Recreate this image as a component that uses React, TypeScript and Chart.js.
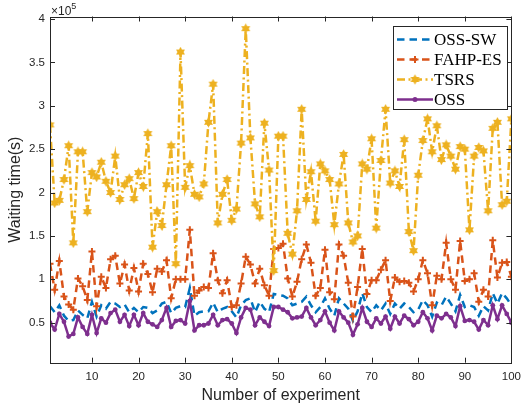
import { useEffect, useRef } from "react";
import { Chart, registerables } from "chart.js";

Chart.register(...registerables);

// Experiment numbers 1..100
const experiments: number[] = Array.from({ length: 100 }, (_, i) => i + 1);

// Waiting time values in units of 10^5 s
const ossSw: number[] = [
  0.69, 0.62, 0.70, 0.58, 0.52, 0.53, 0.64, 0.59, 0.55, 0.74,
  0.57, 0.70, 0.66, 0.74, 0.72, 0.68, 0.71, 0.62, 0.67, 0.62,
  0.68, 0.67, 0.61, 0.64, 0.72, 0.74, 0.61, 0.67, 0.69, 0.68,
  0.90, 0.58, 0.62, 0.63, 0.63, 0.73, 0.62, 0.66, 0.68, 0.63,
  0.56, 0.70, 0.76, 0.78, 0.62, 0.74, 0.66, 0.62, 0.83, 0.82,
  0.81, 0.78, 0.70, 0.72, 0.74, 0.80, 0.70, 0.62, 0.68, 0.78,
  0.66, 0.58, 0.78, 0.72, 0.66, 0.52, 0.63, 0.84, 0.68, 0.62,
  0.70, 0.64, 0.72, 0.60, 0.72, 0.66, 0.72, 0.68, 0.62, 0.65,
  0.76, 0.70, 0.57, 0.73, 0.70, 0.80, 0.72, 0.63, 0.82, 0.68,
  0.70, 0.68, 0.58, 0.69, 0.64, 0.84, 0.72, 0.84, 0.78, 0.70,
];

const fahpEs: number[] = [
  1.18, 0.88, 1.21, 0.80, 0.71, 0.65, 1.01, 0.92, 0.76, 1.32,
  0.69, 1.03, 0.90, 1.23, 1.27, 0.95, 1.17, 0.87, 1.13, 0.86,
  1.18, 1.06, 0.85, 1.12, 1.09, 1.22, 0.78, 1.00, 1.00, 1.00,
  1.57, 0.81, 0.87, 0.91, 0.90, 1.30, 0.99, 0.84, 0.99, 0.68,
  0.70, 0.95, 1.26, 1.17, 0.95, 1.12, 0.93, 0.81, 1.35, 1.36,
  1.41, 1.01, 0.80, 0.97, 1.23, 1.40, 1.19, 0.81, 0.90, 1.34,
  0.85, 0.77, 1.40, 1.27, 0.96, 0.57, 0.91, 1.35, 0.83, 0.99,
  0.99, 1.11, 1.22, 0.75, 1.02, 0.97, 0.98, 0.96, 0.86, 1.00,
  1.22, 1.07, 0.70, 1.04, 1.00, 1.42, 1.00, 0.88, 1.44, 0.98,
  1.00, 1.07, 0.74, 0.88, 0.80, 1.45, 1.02, 1.19, 1.20, 1.03,
];

const tsrs: number[] = [
  2.78, 1.88, 1.91, 2.15, 2.54, 1.42, 2.47, 2.47, 1.78, 2.23,
  2.18, 2.35, 2.13, 2.00, 2.42, 1.92, 2.09, 2.16, 1.93, 2.23,
  2.07, 2.68, 1.37, 1.78, 1.62, 2.09, 2.54, 1.18, 3.62, 2.06,
  2.31, 1.98, 1.95, 2.10, 2.81, 3.25, 1.65, 1.98, 2.15, 1.68,
  1.81, 2.57, 3.89, 2.63, 1.87, 1.72, 2.80, 2.26, 1.10, 2.65,
  2.65, 1.53, 1.29, 1.79, 2.96, 1.92, 2.24, 1.67, 2.33, 2.25,
  2.15, 1.63, 2.10, 2.44, 1.65, 1.43, 1.50, 2.33, 2.27, 2.62,
  1.59, 2.37, 2.96, 2.11, 2.25, 2.07, 2.61, 1.55, 1.33, 2.20,
  2.60, 2.85, 2.47, 2.77, 2.38, 2.55, 2.42, 2.27, 2.53, 2.50,
  1.57, 2.42, 2.52, 2.48, 1.79, 2.74, 2.81, 1.86, 1.90, 2.85,
];

const oss: number[] = [
  0.50, 0.42, 0.60, 0.51, 0.34, 0.37, 0.56, 0.45, 0.37, 0.59,
  0.38, 0.55, 0.50, 0.61, 0.65, 0.51, 0.59, 0.46, 0.59, 0.47,
  0.61, 0.51, 0.48, 0.45, 0.53, 0.67, 0.45, 0.52, 0.53, 0.49,
  0.75, 0.41, 0.47, 0.47, 0.49, 0.59, 0.47, 0.53, 0.54, 0.49,
  0.38, 0.56, 0.67, 0.65, 0.47, 0.56, 0.51, 0.46, 0.68, 0.68,
  0.65, 0.62, 0.55, 0.56, 0.57, 0.67, 0.56, 0.47, 0.53, 0.63,
  0.50, 0.41, 0.63, 0.56, 0.50, 0.36, 0.48, 0.67, 0.51, 0.45,
  0.55, 0.49, 0.57, 0.43, 0.57, 0.49, 0.58, 0.54, 0.47, 0.51,
  0.62, 0.55, 0.41, 0.58, 0.55, 0.60, 0.56, 0.46, 0.69, 0.52,
  0.53, 0.51, 0.42, 0.53, 0.47, 0.70, 0.54, 0.70, 0.60, 0.50,
];

const seriesNames = ["OSS-SW", "FAHP-ES", "TSRS", "OSS"];
const xTitle = "Number of experiment";
const yTitle = "Waiting time(s)";

const BLUE = "#0072BD";
const ORANGE = "#D95319";
const YELLOW = "#EDB120";
const PURPLE = "#7E2F8E";
const AXIS = "#262626";
const LW = 2.5;

function makeHexagram(color: string, size: number): HTMLCanvasElement {
  const c = document.createElement("canvas");
  c.width = size;
  c.height = size;
  const ctx = c.getContext("2d")!;
  const cx = size / 2;
  const cy = size / 2;
  const R = size / 2 - 0.3;
  const r = R / Math.sqrt(3);
  ctx.beginPath();
  for (let k = 0; k < 12; k++) {
    const ang = -Math.PI / 2 + (k * Math.PI) / 6;
    const rad = k % 2 === 0 ? R : r;
    const px = cx + rad * Math.cos(ang);
    const py = cy + rad * Math.sin(ang);
    if (k === 0) ctx.moveTo(px, py);
    else ctx.lineTo(px, py);
  }
  ctx.closePath();
  ctx.fillStyle = color;
  ctx.fill();
  return c;
}

export default function App() {
  const ref = useRef<HTMLCanvasElement | null>(null);

  useEffect(() => {
    if (!ref.current) return;
    const star = makeHexagram(YELLOW, 11);
    const toPts = (arr: number[]) => arr.map((v, i) => ({ x: experiments[i], y: v }));

    const framePlugin = {
      id: "matlabFrame",
      afterDraw(chart: any) {
        const { ctx, chartArea } = chart;
        const xs = chart.scales.x;
        const ys = chart.scales.y;
        const { left, right, top, bottom } = chartArea;
        ctx.save();
        ctx.strokeStyle = AXIS;
        ctx.lineWidth = 1;
        ctx.setLineDash([]);
        ctx.strokeRect(Math.round(left) + 0.5, Math.round(top) + 0.5, Math.round(right - left), Math.round(bottom - top));
        const tl = 5;
        ctx.beginPath();
        xs.ticks.forEach((t: any) => {
          const px = Math.round(xs.getPixelForValue(t.value)) + 0.5;
          ctx.moveTo(px, bottom);
          ctx.lineTo(px, bottom - tl);
          ctx.moveTo(px, top);
          ctx.lineTo(px, top + tl);
        });
        ys.ticks.forEach((t: any) => {
          const py = Math.round(ys.getPixelForValue(t.value)) + 0.5;
          ctx.moveTo(left, py);
          ctx.lineTo(left + tl, py);
          ctx.moveTo(right, py);
          ctx.lineTo(right - tl, py);
        });
        ctx.stroke();

        // exponent label
        ctx.fillStyle = AXIS;
        ctx.textBaseline = "alphabetic";
        ctx.textAlign = "left";
        ctx.font = "12px 'Liberation Sans', Arial, sans-serif";
        ctx.fillText("\u00d710", left + 1, 14.5);
        const w = ctx.measureText("\u00d710").width;
        ctx.font = "9px 'Liberation Sans', Arial, sans-serif";
        ctx.fillText("5", left + 1 + w, 8.5);

        // axis titles
        ctx.font = "16px 'Liberation Sans', Arial, sans-serif";
        ctx.textAlign = "center";
        ctx.textBaseline = "middle";
        ctx.fillText(xTitle, (left + right) / 2, 396);
        ctx.save();
        ctx.translate(16, (top + bottom) / 2);
        ctx.rotate(-Math.PI / 2);
        ctx.fillText(yTitle, 0, 0);
        ctx.restore();

        // legend
        const bx = 393.5, by = 26.5, bw = 114, bh = 83;
        ctx.fillStyle = "#ffffff";
        ctx.fillRect(bx, by, bw, bh);
        ctx.strokeStyle = AXIS;
        ctx.lineWidth = 1;
        ctx.strokeRect(bx, by, bw, bh);
        const rows = [39.5, 59.5, 79.5, 99.5];
        const x0 = 397, x1 = 433, xm = 415;
        const styles = [
          { color: BLUE, dash: [7.5, 5] },
          { color: ORANGE, dash: [7.5, 5] },
          { color: YELLOW, dash: [8, 3.5, 2, 3.5] },
          { color: PURPLE, dash: [] as number[] },
        ];
        styles.forEach((s, i) => {
          const y = rows[i];
          ctx.strokeStyle = s.color;
          ctx.lineWidth = LW;
          ctx.setLineDash(s.dash);
          ctx.beginPath();
          ctx.moveTo(x0, y);
          ctx.lineTo(x1, y);
          ctx.stroke();
          ctx.setLineDash([]);
          if (i === 1) {
            ctx.lineWidth = 2;
            ctx.beginPath();
            ctx.moveTo(xm - 3.5, y);
            ctx.lineTo(xm + 3.5, y);
            ctx.moveTo(xm, y - 3.5);
            ctx.lineTo(xm, y + 3.5);
            ctx.stroke();
          } else if (i === 2) {
            ctx.drawImage(star, xm - 5.5, y - 5.5, 11, 11);
          } else if (i === 3) {
            ctx.fillStyle = s.color;
            ctx.beginPath();
            ctx.arc(xm, y, 2.5, 0, Math.PI * 2);
            ctx.fill();
          }
          ctx.fillStyle = "#000000";
          ctx.font = "17px 'Liberation Serif', 'Times New Roman', serif";
          ctx.textAlign = "left";
          ctx.textBaseline = "middle";
          ctx.fillText(seriesNames[i], 434, y + 1);
        });
        ctx.restore();
      },
    };

    const tickFont = { family: "'Liberation Sans', Arial, sans-serif", size: 11.5 };

    const chart = new Chart(ref.current, {
      type: "line",
      data: {
        datasets: [
          {
            label: seriesNames[0],
            data: toPts(ossSw),
            borderColor: BLUE,
            borderWidth: LW,
            borderDash: [7.5, 5],
            pointRadius: 0,
            order: 4,
          },
          {
            label: seriesNames[1],
            data: toPts(fahpEs),
            borderColor: ORANGE,
            borderWidth: LW,
            borderDash: [7.5, 5],
            pointStyle: "cross",
            pointRadius: 3.5,
            pointBorderWidth: 2,
            pointBorderColor: ORANGE,
            pointBackgroundColor: ORANGE,
            order: 3,
          },
          {
            label: seriesNames[2],
            data: toPts(tsrs),
            borderColor: YELLOW,
            borderWidth: LW,
            borderDash: [8, 3.5, 2, 3.5],
            pointStyle: star as any,
            pointRadius: 4,
            order: 2,
          },
          {
            label: seriesNames[3],
            data: toPts(oss),
            borderColor: PURPLE,
            borderWidth: LW,
            pointStyle: "circle",
            pointRadius: 2.4,
            pointBorderWidth: 0,
            pointBackgroundColor: PURPLE,
            order: 1,
          },
        ],
      },
      options: {
        animation: false,
        responsive: false,
        events: [],
        layout: { padding: { left: 0, right: 8, top: 16.5, bottom: 0 } },
        elements: { line: { tension: 0 } },
        plugins: { legend: { display: false }, tooltip: { enabled: false } },
        scales: {
          x: {
            type: "linear",
            min: 1,
            max: 100,
            grid: { display: false, drawTicks: false },
            border: { display: false },
            ticks: {
              stepSize: 10,
              includeBounds: false,
              autoSkip: false,
              maxRotation: 0,
              padding: 7,
              color: AXIS,
              font: tickFont,
            },
            afterFit: (s: any) => {
              s.height = 47.3;
            },
          },
          y: {
            type: "linear",
            min: 0.038,
            max: 4.03,
            grid: { display: false, drawTicks: false },
            border: { display: false },
            ticks: {
              stepSize: 0.5,
              includeBounds: false,
              padding: 5,
              color: AXIS,
              font: tickFont,
              callback: (v: any) => String(Math.round(Number(v) * 10) / 10),
            },
            afterFit: (s: any) => {
              s.width = 50;
            },
          },
        },
      },
      plugins: [framePlugin],
    });
    return () => chart.destroy();
  }, []);

  return (
    <div style={{ position: "absolute", left: 0, top: 0, width: 528, height: 410, background: "#fff" }}>
      <canvas ref={ref} width={528} height={410} style={{ display: "block" }} />
    </div>
  );
}
